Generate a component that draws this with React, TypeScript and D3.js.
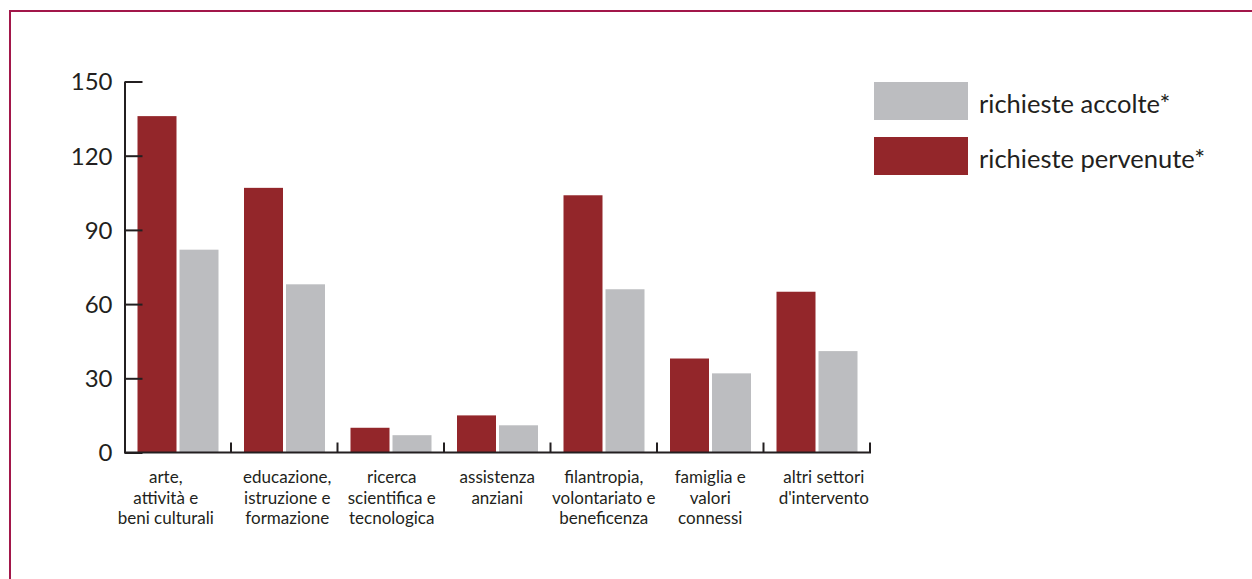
import React, { useRef, useEffect } from 'react';
import * as d3 from 'd3';

// categories (multi-line labels)
const categories: string[][] = [
  ['arte,', 'attività e', 'beni culturali'],
  ['educazione,', 'istruzione e', 'formazione'],
  ['ricerca', 'scientifica e', 'tecnologica'],
  ['assistenza', 'anziani'],
  ['filantropia,', 'volontariato e', 'beneficenza'],
  ['famiglia e', 'valori', 'connessi'],
  ['altri settori', "d'intervento"],
];
const pervenute = [136, 107, 10, 15, 104, 38, 65];
const accolte = [82, 68, 7, 11, 66, 32, 41];
const yTicks = [0, 30, 60, 90, 120, 150];
const seriesNames = ['richieste pervenute*', 'richieste accolte*'];

const RED = '#93262a';
const GRAY = '#bcbdc0';
const INK = '#231f20';
const FRAME = '#a2174a';
const FONT = 'Lato, "Noto Sans", sans-serif';

const App: React.FC = () => {
  const axisRef = useRef<SVGGElement>(null);

  const keys = categories.map((c) => c.join(' '));
  const x = d3.scaleBand<string>().domain(keys).range([124.5, 870]);
  const x1 = d3
    .scaleBand<string>()
    .domain(seriesNames)
    .range([13, 94])
    .paddingInner(3 / 42);
  const y = d3.scaleLinear().domain([0, 150]).range([452.5, 81.5]);

  useEffect(() => {
    const g = d3.select(axisRef.current);
    g.selectAll('*').remove();
    g.call(
      d3
        .axisLeft(y)
        .tickValues(yTicks)
        .tickSizeInner(-18)
        .tickSizeOuter(0)
        .tickPadding(12)
        .tickFormat(d3.format('d'))
    );
    g.select('.domain').attr('stroke', INK).attr('stroke-width', 2);
    g.selectAll('.tick line').attr('stroke', INK).attr('stroke-width', 2);
    g.selectAll('.tick text')
      .attr('fill', INK)
      .attr('font-size', 24)
      .attr('font-family', FONT)
      .attr('dy', '0.35em');
  }, []);

  const series = [pervenute, accolte];
  const colors = [RED, GRAY];
  const labelDx = [-12, 3, 1, 0, 0, 0, 7];

  return (
    <svg
      width={1252}
      height={579}
      style={{ position: 'absolute', left: 0, top: 0, background: '#fff' }}
    >
      {/* frame */}
      <line x1={9} x2={1252} y1={11} y2={11} stroke={FRAME} strokeWidth={2} />
      <line x1={10} x2={10} y1={10} y2={579} stroke={FRAME} strokeWidth={2} />

      {/* bars */}
      {keys.map((k, i) => (
        <g key={k} transform={`translate(${x(k)},0)`}>
          {series.map((s, j) => (
            <rect
              key={j}
              x={x1(seriesNames[j])}
              y={y(s[i])}
              width={x1.bandwidth()}
              height={y(0) - y(s[i])}
              fill={colors[j]}
            />
          ))}
        </g>
      ))}

      {/* x axis */}
      <line x1={124.5} x2={871} y1={y(0)} y2={y(0)} stroke={INK} strokeWidth={2} />
      {keys.slice(1).concat(['end']).map((k, i) => {
        const xx = k === 'end' ? (x(keys[keys.length - 1]) as number) + x.bandwidth() : (x(k) as number);
        return (
          <line key={i} x1={xx} x2={xx} y1={y(0)} y2={y(0) - 10} stroke={INK} strokeWidth={2} />
        );
      })}

      {/* category labels */}
      {categories.map((lines, i) => {
        const cx = (x(keys[i]) as number) + x.bandwidth() / 2 + labelDx[i];
        return (
          <text key={i} x={cx} y={483} textAnchor="middle" fontFamily={FONT} fontSize={17} fill={INK}>
            {lines.map((l, j) => (
              <tspan key={j} x={cx} dy={j === 0 ? 0 : 20.5}>
                {l}
              </tspan>
            ))}
          </text>
        );
      })}

      <g ref={axisRef} transform="translate(124.5,0)" />

      {/* legend */}
      {[1, 0].map((j, r) => (
        <g key={j} transform={`translate(874,${82 + r * 55})`}>
          <rect width={94} height={38} fill={colors[j]} />
          <text x={105} y={31} fontFamily={FONT} fontSize={25.5} fill={INK}>
            {seriesNames[j]}
          </text>
        </g>
      ))}
    </svg>
  );
};

export default App;
